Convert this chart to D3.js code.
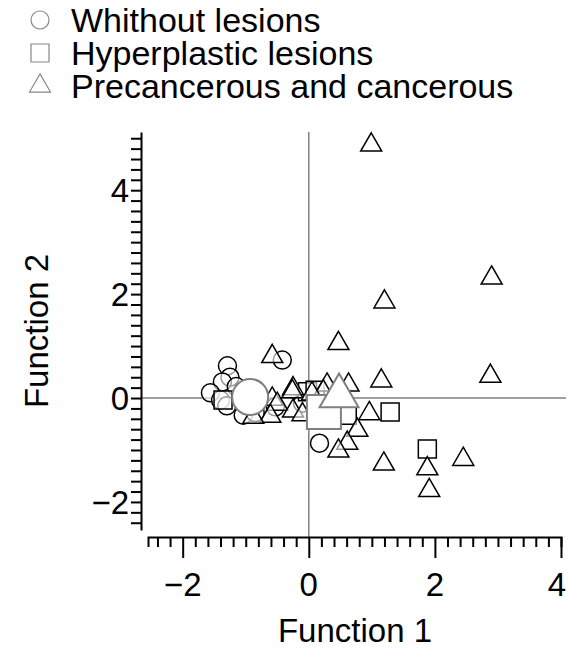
<!DOCTYPE html>
<meta charset="utf-8">
<style>
body { margin: 0; background: #fff; }
text { font-family: "Liberation Sans", Arial, sans-serif; fill: #000; }
.axis path, .axis line { stroke: #000; stroke-width: 2px; }
.zero { stroke: #808080; stroke-width: 1.5px; }
</style>
<body>
<script src="https://cdn.jsdelivr.net/npm/d3@7"></script>
<script>

// group points, [function 1, function 2]
var withoutLesions = [
  [-0.42, 0.73], [-1.29, 0.62], [-1.25, 0.40], [-1.37, 0.31], [-1.56, 0.10],
  [-1.40, -0.04], [-1.04, -0.33], [-0.53, -0.17], [-0.10, -0.10], [0.17, -0.87],
  [-1.15, 0.22], [-0.85, -0.28], [-1.30, -0.15]
];
var hyperplastic = [
  [-1.36, -0.04], [-0.02, 0.12], [0.10, 0.15], [0.61, -0.33], [1.29, -0.27],
  [1.88, -0.98], [0.20, -0.30]
];
var cancerous = [
  [0.99, 4.87], [2.90, 2.31], [1.20, 1.85], [0.47, 1.05], [2.88, 0.42],
  [1.15, 0.33], [0.63, 0.25], [0.29, 0.25], [-0.25, 0.18], [-0.58, 0.80],
  [0.96, -0.30], [0.77, -0.62], [0.61, -0.87], [0.47, -1.02], [1.19, -1.27],
  [1.88, -1.36], [2.45, -1.18], [1.91, -1.78], [-0.58, -0.02], [-0.50, -0.12],
  [-0.26, 0.12], [-0.25, -0.25], [-0.61, -0.35], [-0.88, -0.37], [0.23, 0.12],
  [-0.10, -0.32], [0.05, 0.08]
];
// group centroids
var centroids = [
  {shape: "circle", x: -0.93, y: 0.02},
  {shape: "square", x: 0.24, y: -0.27},
  {shape: "triangle", x: 0.48, y: 0.04}
];
var legendLabels = ["Whithout lesions", "Hyperplastic lesions", "Precancerous and cancerous"];
var legendShapes = ["circle", "square", "triangle"];
var tickLabels = [-2, 0, 2, 4];

var svg = d3.select("body").append("svg")
    .attr("width", 568)
    .attr("height", 662);

var x = d3.scaleLinear().domain([-2.55, 4]).range([148, 561]);
var y = d3.scaleLinear().domain([-2.54, 5.12]).range([530, 132]);

// marker path, sized by size (radius / side)
function shapePath(shape, s) {
  if (shape === "circle") {
    return "M" + s + ",0A" + s + "," + s + " 0 1,1 " + (-s) + ",0A" + s + "," + s + " 0 1,1 " + s + ",0Z";
  }
  if (shape === "square") {
    var h = s / 2;
    return "M" + (-h) + "," + (-h) + "H" + h + "V" + h + "H" + (-h) + "Z";
  }
  var t = s * Math.sqrt(3) / 2;
  return "M0," + (-2 * t / 3) + "L" + (s / 2) + "," + (t / 3) + "L" + (-s / 2) + "," + (t / 3) + "Z";
}

// zero lines
svg.append("line").attr("class", "zero")
    .attr("x1", 141).attr("x2", 566).attr("y1", y(0)).attr("y2", y(0));
svg.append("line").attr("class", "zero")
    .attr("x1", x(0)).attr("x2", x(0)).attr("y1", 132).attr("y2", 537);

// axes
var xMinor = d3.range(-12, 21).map(function(i) { return i / 5; });
var yMinor = d3.range(-12, 26).map(function(i) { return i / 5; });

var xAxis = svg.append("g").attr("class", "axis")
    .attr("transform", "translate(0,537)")
    .call(d3.axisBottom(x).tickValues(xMinor).tickSize(10).tickSizeOuter(10).tickFormat(""));
xAxis.selectAll(".tick line")
    .attr("y2", function(d) { return tickLabels.indexOf(Math.round(d * 5) / 5) >= 0 ? 21 : 10; });

var yAxis = svg.append("g").attr("class", "axis")
    .attr("transform", "translate(141,0)")
    .call(d3.axisLeft(y).tickValues(yMinor).tickSize(10).tickSizeOuter(0).tickFormat(""));

function fmt(d) { return d < 0 ? "\u2212" + Math.abs(d) : String(d); }

svg.selectAll(".xlab").data(tickLabels).enter().append("text")
    .attr("class", "xlab")
    .attr("x", function(d) { return Math.min(x(d), 557); })
    .attr("y", 596)
    .attr("text-anchor", "middle")
    .style("font-size", "33px")
    .text(fmt);

svg.selectAll(".ylab").data(tickLabels).enter().append("text")
    .attr("class", "ylab")
    .attr("x", 129)
    .attr("y", function(d) { return y(d) + 12; })
    .attr("text-anchor", "end")
    .style("font-size", "33px")
    .text(fmt);

svg.append("text")
    .attr("x", 355).attr("y", 642)
    .attr("text-anchor", "middle")
    .style("font-size", "33px")
    .text("Function 1");

svg.append("text")
    .attr("transform", "translate(48,331) rotate(-90)")
    .attr("text-anchor", "middle")
    .style("font-size", "33px")
    .text("Function 2");

// points
var groups = [
  {data: withoutLesions, shape: "circle", size: 9},
  {data: hyperplastic, shape: "square", size: 18},
  {data: cancerous, shape: "triangle", size: 21}
];
groups.forEach(function(g) {
  svg.append("g").selectAll("path").data(g.data).enter().append("path")
      .attr("d", shapePath(g.shape, g.size))
      .attr("transform", function(d) { return "translate(" + x(d[0]) + "," + y(d[1]) + ")"; })
      .attr("fill", "#fff")
      .attr("fill-opacity", 0.6)
      .attr("stroke", "#000")
      .attr("stroke-width", 1.5);
});

var bigSize = {circle: 18, square: 34, triangle: 39};
svg.append("g").selectAll("path").data(centroids).enter().append("path")
    .attr("d", function(d) { return shapePath(d.shape, bigSize[d.shape]); })
    .attr("transform", function(d) { return "translate(" + x(d.x) + "," + y(d.y) + ")"; })
    .attr("fill", "#fff")
    .attr("stroke", "#808080")
    .attr("stroke-width", 2);

// legend
var legendSize = {circle: 9, square: 18, triangle: 21};
var leg = svg.append("g").selectAll("g").data(legendLabels).enter().append("g")
    .attr("transform", function(d, i) { return "translate(0," + (20 + i * 33) + ")"; });
leg.append("path")
    .attr("d", function(d, i) { return shapePath(legendShapes[i], legendSize[legendShapes[i]]); })
    .attr("transform", "translate(40,0)")
    .attr("fill", "none")
    .attr("stroke", "#888")
    .attr("stroke-width", 1.2);
leg.append("text")
    .attr("x", 71).attr("y", 12)
    .style("font-size", "34px")
    .text(function(d) { return d; });

</script>
</body>
